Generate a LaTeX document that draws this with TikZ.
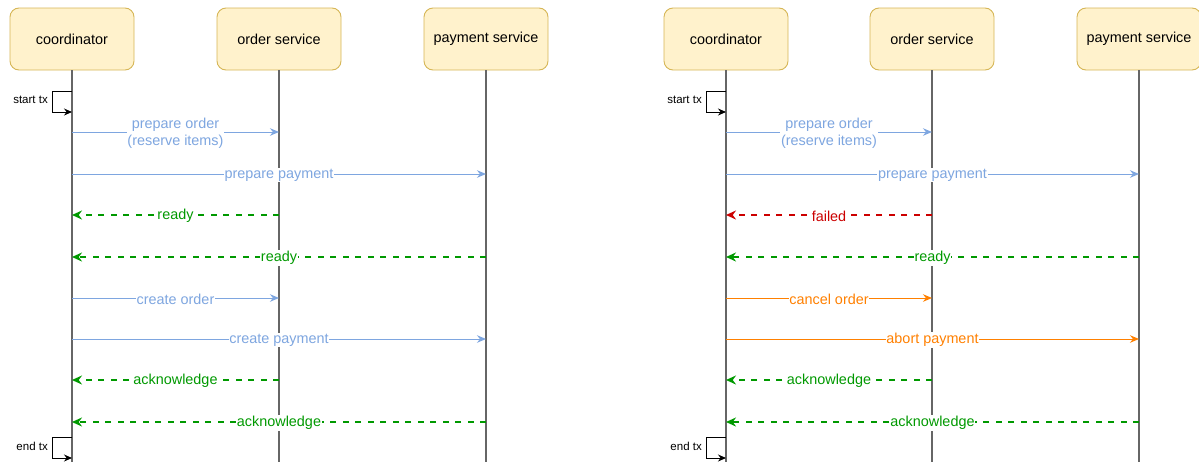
\documentclass[tikz,border=0pt]{standalone}
\usepackage{fontspec}
\setmainfont{Liberation Sans}
\usetikzlibrary{arrows.meta}
\definecolor{boxfill}{HTML}{FFF2CC}
\definecolor{boxline}{HTML}{D6B656}
\definecolor{msgblue}{HTML}{7EA6E0}
\definecolor{msggreen}{HTML}{009900}
\definecolor{msgred}{HTML}{CC0000}
\definecolor{msgorange}{HTML}{FF8000}
\definecolor{life}{HTML}{666666}

\begin{document}
\begin{tikzpicture}[x=1pt,y=-1pt,
  actor/.style={draw=boxline, fill=boxfill, rounded corners=9pt, minimum width=124pt,
    minimum height=62pt, line width=0.9pt, font=\fontsize{14.4}{17}\selectfont},
  lifeline/.style={draw=life, line width=1.3pt},
  call/.style={draw=#1, line width=1pt, -{Stealth[length=9pt,width=7.5pt]}},
  reply/.style={draw=#1, line width=1.8pt, dash pattern=on 6pt off 6.5pt,
    -{Stealth[length=10pt,width=9pt]}},
  lbl/.style={fill=white, inner xsep=0.6pt, inner ysep=1pt, text=#1, align=center,
    yshift=-1.2pt, font=\fontsize{14.4}{17}\selectfont},
  selfloop/.style={draw=black, line width=1pt, -{Stealth[length=8pt,width=7pt]}},
  txlbl/.style={anchor=east, inner sep=0pt, font=\fontsize{11.5}{13}\selectfont},
]
\useasboundingbox (0,0) rectangle (1199,461);

% ---------- left: successful commit ----------
\node[actor] (Lco) at (72,39)  {coordinator};
\node[actor] (Los) at (279,39) {order service};
\node[actor] (Lps) at (486,39) {payment service};
\coordinate (Lcoe) at (72,465);
\coordinate (Lose) at (279,465);
\coordinate (Lpse) at (486,465);
\draw[lifeline] (Lco.south) -- (Lcoe);
\draw[lifeline] (Los.south) -- (Lose);
\draw[lifeline] (Lps.south) -- (Lpse);

\coordinate (Lst) at (52,91);
\coordinate (Let) at (52,437);
\draw[selfloop] (Lco |- Lst) -- (Lst) -- ++(0,21) -- (Lco |- 0,112);
\node[txlbl] (Lstl) at (48,100) {start tx};
\draw[selfloop] (Lco |- Let) -- (Let) -- ++(0,21) -- (Lco |- 0,458);
\node[txlbl] (Letl) at (48,446) {end tx};

\draw[call=msgblue] (Lco |- 0,132) -- node[lbl=msgblue, midway] {prepare order\\(reserve items)} (Los |- 0,132);
\draw[call=msgblue] (Lco |- 0,174) -- node[lbl=msgblue, midway] {prepare payment} (Lps |- 0,174);
\draw[reply=msggreen] (Los |- 0,215) -- node[lbl=msggreen, midway] {ready} (Lco |- 0,215);
\draw[reply=msggreen] (Lps |- 0,257) -- node[lbl=msggreen, midway] {ready} (Lco |- 0,257);
\draw[call=msgblue] (Lco |- 0,298) -- node[lbl=msgblue, midway] {create order} (Los |- 0,298);
\draw[call=msgblue] (Lco |- 0,339) -- node[lbl=msgblue, midway] {create payment} (Lps |- 0,339);
\draw[reply=msggreen] (Los |- 0,380) -- node[lbl=msggreen, midway] {acknowledge} (Lco |- 0,380);
\draw[reply=msggreen] (Lps |- 0,422) -- node[lbl=msggreen, midway] {acknowledge} (Lco |- 0,422);

% ---------- right: abort ----------
\node[actor] (Rco) at (726,39)  {coordinator};
\node[actor] (Ros) at (932,39)  {order service};
\node[actor] (Rps) at (1139,39) {payment service};
\coordinate (Rcoe) at (726,465);
\coordinate (Rose) at (932,465);
\coordinate (Rpse) at (1139,465);
\draw[lifeline] (Rco.south) -- (Rcoe);
\draw[lifeline] (Ros.south) -- (Rose);
\draw[lifeline] (Rps.south) -- (Rpse);

\coordinate (Rst) at (706,91);
\coordinate (Ret) at (706,437);
\draw[selfloop] (Rco |- Rst) -- (Rst) -- ++(0,21) -- (Rco |- 0,112);
\node[txlbl] (Rstl) at (702,100) {start tx};
\draw[selfloop] (Rco |- Ret) -- (Ret) -- ++(0,21) -- (Rco |- 0,458);
\node[txlbl] (Retl) at (702,446) {end tx};

\draw[call=msgblue] (Rco |- 0,132) -- node[lbl=msgblue, midway] {prepare order\\(reserve items)} (Ros |- 0,132);
\draw[call=msgblue] (Rco |- 0,174) -- node[lbl=msgblue, midway] {prepare payment} (Rps |- 0,174);
\draw[reply=msgred] (Ros |- 0,215) -- node[lbl=msgred, midway] {failed} (Rco |- 0,215);
\draw[reply=msggreen] (Rps |- 0,257) -- node[lbl=msggreen, midway] {ready} (Rco |- 0,257);
\draw[call=msgorange] (Rco |- 0,298) -- node[lbl=msgorange, midway] {cancel order} (Ros |- 0,298);
\draw[call=msgorange] (Rco |- 0,339) -- node[lbl=msgorange, midway] {abort payment} (Rps |- 0,339);
\draw[reply=msggreen] (Ros |- 0,380) -- node[lbl=msggreen, midway] {acknowledge} (Rco |- 0,380);
\draw[reply=msggreen] (Rps |- 0,422) -- node[lbl=msggreen, midway] {acknowledge} (Rco |- 0,422);
\end{tikzpicture}
\end{document}
